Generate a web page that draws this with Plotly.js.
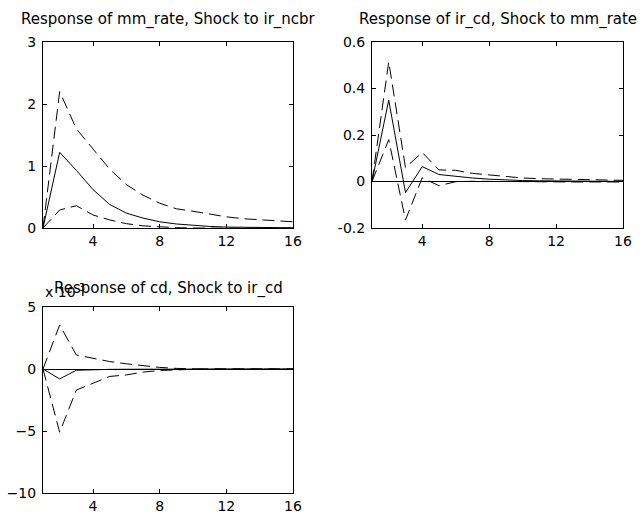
<!DOCTYPE html>
<html>
<head>
<meta charset="utf-8">
<script src="https://cdn.plot.ly/plotly-3.0.1.min.js"></script>
<style>
  html, body { margin: 0; padding: 0; background: #fff; }
  #chart { width: 640px; height: 515px; }
</style>
</head>
<body>
<div id="chart"></div>
<script>
// Horizon (periods)
const periods = [1,2,3,4,5,6,7,8,9,10,11,12,13,14,15,16];

// Panel 1: Response of mm_rate, Shock to ir_ncbr
const irf1   = [0, 1.22, 0.93, 0.62, 0.38, 0.24, 0.16, 0.10, 0.065, 0.04, 0.025, 0.015, 0.01, 0.006, 0.004, 0.003];
const upper1 = [0, 2.20, 1.60, 1.27, 0.95, 0.70, 0.53, 0.40, 0.31, 0.27, 0.22, 0.18, 0.15, 0.13, 0.11, 0.10];
const lower1 = [0, 0.29, 0.36, 0.21, 0.13, 0.07, 0.035, 0.015, 0.005, 0, -0.005, -0.005, -0.005, -0.004, -0.003, -0.003];

// Panel 2: Response of ir_cd, Shock to mm_rate
const irf2   = [0, 0.35, -0.048, 0.064, 0.030, 0.022, 0.015, 0.010, 0.006, 0.004, 0.003, 0.002, 0.001, 0.001, 0.0005, 0.0003];
const upper2 = [0, 0.515, 0.060, 0.125, 0.050, 0.048, 0.035, 0.028, 0.020, 0.015, 0.012, 0.010, 0.008, 0.007, 0.006, 0.005];
const lower2 = [0, 0.18, -0.166, 0.016, -0.018, -0.001, 0.001, 0, -0.001, -0.002, -0.002, -0.002, -0.002, -0.002, -0.002, -0.002];

// Panel 3: Response of cd, Shock to ir_cd (values in units of 10^-3)
const irf3   = [0, -0.80, -0.10, -0.05, -0.03, -0.02, -0.01, -0.005, 0, 0, 0, 0, 0, 0, 0, 0];
const upper3 = [0, 3.55, 1.13, 0.86, 0.60, 0.42, 0.25, 0.13, 0.05, 0.0, -0.02, -0.02, -0.01, -0.01, -0.01, -0.01];
const lower3 = [0, -5.10, -1.70, -1.15, -0.60, -0.48, -0.25, -0.12, -0.06, -0.02, 0.02, 0.02, 0.01, 0.01, 0.01, 0.01];

const titles = [
  "Response of mm_rate, Shock to ir_ncbr",
  "Response of ir_cd, Shock to mm_rate",
  "Response of cd, Shock to ir_cd"
];
const xTicks = [4, 8, 12, 16];
const yTicks1 = [0, 1, 2, 3];
const yTicks2 = [-0.2, 0, 0.2, 0.4, 0.6];
const yTickLabels2 = ["-0.2", "0", "0.2", "0.4", "0.6"];
const yTicks3 = [-10, -5, 0, 5];

const FONT = "DejaVu Sans, Liberation Sans, Arial, sans-serif";
const dashed = "12px,6px";

function series(y, xa, ya, dash) {
  return {
    x: periods, y: y, xaxis: xa, yaxis: ya, type: "scatter", mode: "lines",
    line: { color: "#000", width: 1, dash: dash }, hoverinfo: "skip", showlegend: false
  };
}

const data = [
  series(upper1, "x", "y", dashed), series(irf1, "x", "y", "solid"), series(lower1, "x", "y", dashed),
  series(upper2, "x2", "y2", dashed), series(irf2, "x2", "y2", "solid"), series(lower2, "x2", "y2", dashed),
  series(upper3, "x3", "y3", dashed), series(irf3, "x3", "y3", "solid"), series(lower3, "x3", "y3", dashed)
];

const W = 640, H = 515;
function dx(a, b) { return [a / W, b / W]; }
function dy(top, bottom) { return [(H - bottom) / H, (H - top) / H]; }

function xaxis(domain, anchor) {
  return {
    domain: domain, anchor: anchor, range: [1, 16], tickvals: xTicks,
    ticks: "inside", ticklen: 4, tickcolor: "#000", showline: true, linecolor: "#000",
    linewidth: 1, mirror: "ticks", showgrid: false, zeroline: false,
    tickfont: { family: FONT, size: 14, color: "#000" }, fixedrange: true
  };
}
function yaxis(domain, anchor, range, vals, text, zl) {
  const a = {
    domain: domain, anchor: anchor, range: range, tickvals: vals,
    ticks: "inside", ticklen: 4, tickcolor: "#000", showline: true, linecolor: "#000",
    linewidth: 1, mirror: "ticks", showgrid: false, zeroline: zl,
    zerolinecolor: "#000", zerolinewidth: 1, ticklabelstandoff: 3,
    tickfont: { family: FONT, size: 14, color: "#000" }, fixedrange: true
  };
  if (text) a.ticktext = text;
  return a;
}

const d1x = dx(43, 293), d1y = dy(42, 228);
const d2x = dx(372, 623), d2y = dy(42, 228);
const d3x = dx(43, 293), d3y = dy(307, 493);

function titleAnn(text, xd, yd, shift) {
  return {
    text: text, xref: "paper", yref: "paper", x: (xd[0] + xd[1]) / 2, y: yd[1],
    xanchor: "center", yanchor: "bottom", yshift: shift, showarrow: false,
    font: { family: FONT, size: 15, color: "#000" }
  };
}

const layout = {
  width: W, height: H,
  margin: { l: 0, r: 0, t: 0, b: 0 },
  paper_bgcolor: "#fff", plot_bgcolor: "#fff",
  showlegend: false,
  xaxis: xaxis(d1x, "y"), yaxis: yaxis(d1y, "x", [0, 3], yTicks1, null, false),
  xaxis2: xaxis(d2x, "y2"), yaxis2: yaxis(d2y, "x2", [-0.2, 0.6], yTicks2, yTickLabels2, true),
  xaxis3: xaxis(d3x, "y3"), yaxis3: yaxis(d3y, "x3", [-10, 5], yTicks3, null, true),
  annotations: [
    titleAnn(titles[0], d1x, d1y, 11),
    titleAnn(titles[1], d2x, d2y, 11),
    titleAnn(titles[2], d3x, d3y, 7),
    {
      text: "x 10<sup>-3</sup>", xref: "paper", yref: "paper", x: d3x[0], y: d3y[1],
      xanchor: "left", yanchor: "bottom", yshift: 5, showarrow: false,
      font: { family: FONT, size: 14, color: "#000" }
    }
  ]
};

Plotly.newPlot("chart", data, layout, { staticPlot: true, displayModeBar: false });
</script>
</body>
</html>
